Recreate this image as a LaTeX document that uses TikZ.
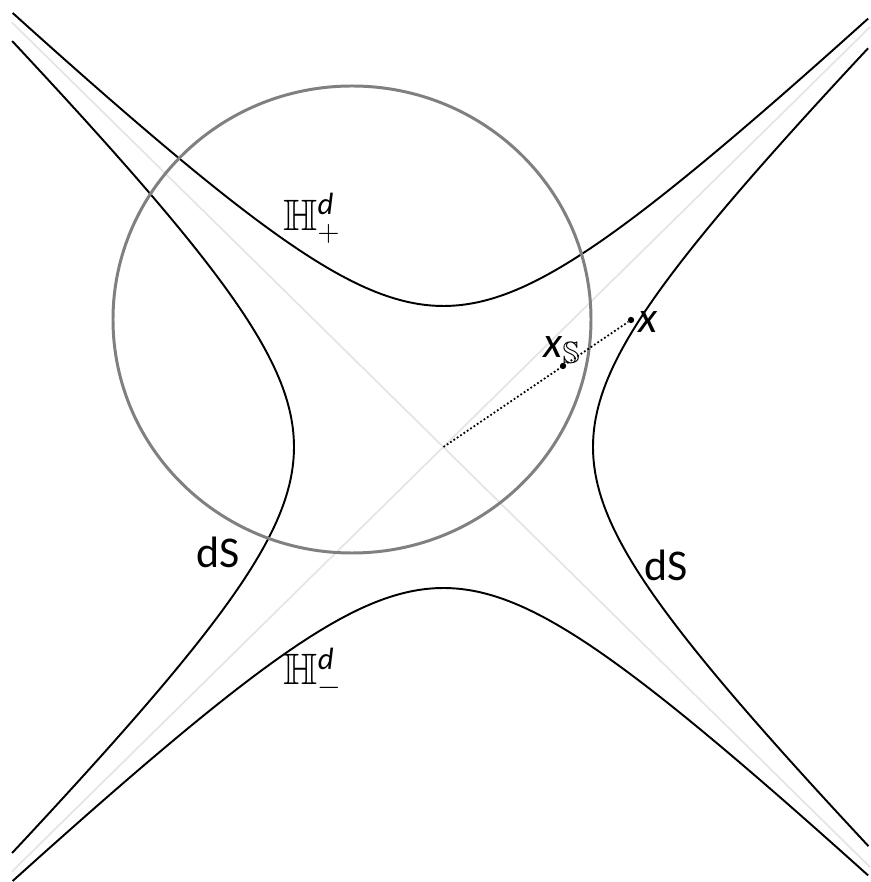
\documentclass[tikz,border=0pt]{standalone}
\usepackage{amsmath,amssymb}
\usepackage{fontspec}
\setmainfont{Carlito}
\usetikzlibrary{positioning,calc}
\tikzset{
  hyp/.style={line width=1.1pt},
  asym/.style={draw=gray!20,line width=1pt},
  sphere/.style={draw=gray,line width=1.7pt},
  pt/.style={circle,fill,inner sep=0pt,minimum size=3.6pt},
  lbl/.style={font=\fontsize{25}{30}\selectfont,inner sep=1pt}
}

\begin{document}
\begin{tikzpicture}[x=2cm,y=2cm]
  \useasboundingbox (-4.435,-4.35) rectangle (4.275,4.47);
  % Light cone
  \coordinate (O) at (0,0);
  \coordinate (nw) at (-4.315,4.245);
  \coordinate (se) at (4.265,-4.2);
  \coordinate (sw) at (-4.315,-4.245);
  \coordinate (ne) at (4.265,4.2);
  \draw[asym] (nw) -- (se);
  \draw[asym] (sw) -- (ne);

  % Hyperbolic sheets
  \draw[hyp] plot[domain=-1.79:1.777,samples=120,variable=\t] ({1.48*sinh(\t)},{1.41*cosh(\t)});
  \draw[hyp] plot[domain=-1.79:1.777,samples=120,variable=\t] ({1.48*sinh(\t)},{-1.41*cosh(\t)});
  % de Sitter branches
  \draw[hyp] plot[domain=-1.7215:1.7215,samples=120,variable=\t] ({-1.495*cosh(\t)},{1.5*sinh(\t)});
  \draw[hyp] plot[domain=-1.7055:1.7055,samples=120,variable=\t] ({1.495*cosh(\t)},{1.5*sinh(\t)});

  % Sphere
  \draw[sphere] (-0.915,1.275) ellipse [x radius=2.39,y radius=2.335];

  % Points
  \node[pt] (x) at (1.875,1.27) {};
  \node[pt] (xs) at (1.195,0.81) {};
  \draw[line width=1pt,dash pattern=on 1pt off 1.3pt] (O) -- (x);

  % Labels
  \node[lbl] (lx) at (2.045,1.25) {\textit{x}};
  \node[lbl] (lxs) at (1.185,0.97) {\textit{x}$_{\mathbb{S}}$};
  \node[lbl] (lhp) at (-1.315,2.29) {$\mathbb{H}^{\textit{d}}_{+}$};
  \node[lbl] (lhm) at (-1.305,-2.26) {$\mathbb{H}^{\textit{d}}_{-}$};
  \node[lbl] (lds1) at (-2.255,-1.05) {dS};
  \node[lbl] (lds2) at (2.225,-1.18) {dS};
\end{tikzpicture}
\end{document}
